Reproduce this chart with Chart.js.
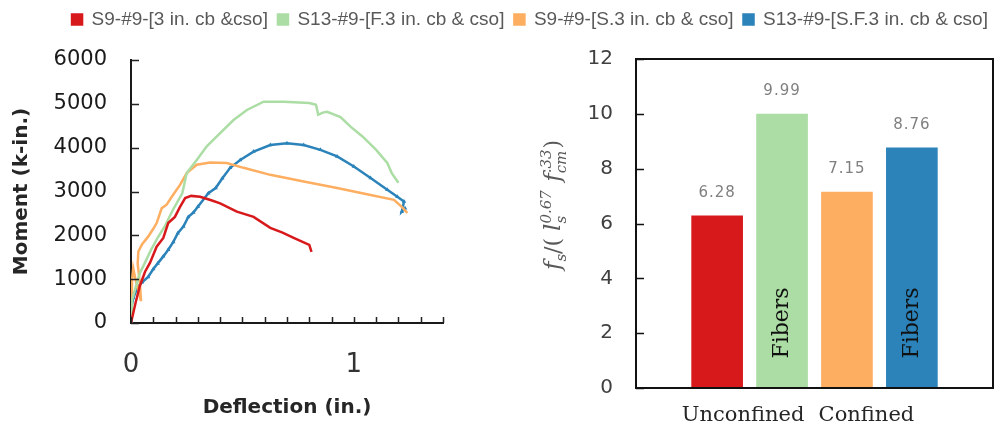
<!DOCTYPE html>
<html>
<head>
    <meta charset="utf-8">
    <title>Moment - deflection and bond ratio</title>
    <script src="https://cdn.jsdelivr.net/npm/chart.js@4.4.3/dist/chart.umd.min.js"></script>
    <style>
        body {
            margin: 0;
            background: #fff;
        }

        .wrap {
            position: relative;
            width: 995px;
            height: 430px;
            overflow: hidden;
        }

        #curves {
            position: absolute;
            left: 0;
            top: 0;
        }

        #bars {
            position: absolute;
            left: 500px;
            top: 0;
        }
    </style>
</head>

<body>
    <div class="wrap">
        <canvas id="curves" width="1060" height="430"></canvas>
        <canvas id="bars" width="495" height="430"></canvas>
    </div>

    <script>
        // series names + colours
        const names = ['S9-#9-[3 in. cb &cso]', 'S13-#9-[F.3 in. cb & cso]', 'S9-#9-[S.3 in. cb & cso]', 'S13-#9-[S.F.3 in. cb & cso]']
        const colors = ['#d7191c', '#abdda4', '#fdae61', '#2b83ba']

        // moment - deflection curves (deflection in., moment k-in.)
        const redX = [0, 0.02, 0.04, 0.063, 0.085, 0.115, 0.145, 0.167, 0.197, 0.22, 0.243, 0.27, 0.31, 0.36, 0.40, 0.475, 0.55, 0.625, 0.68, 0.73, 0.80, 0.81]
        const redY = [0, 450, 850, 1170, 1370, 1740, 1940, 2280, 2420, 2650, 2850, 2900, 2880, 2800, 2730, 2540, 2420, 2170, 2060, 1940, 1780, 1620]

        const greenX = [0, 0.005, 0.02, 0.04, 0.065, 0.09, 0.12, 0.15, 0.19, 0.23, 0.25, 0.295, 0.34, 0.40, 0.46, 0.52, 0.595, 0.685, 0.80, 0.83, 0.84, 0.86, 0.88, 0.94, 0.985, 1.04, 1.10, 1.15, 1.17, 1.20]
        const greenY = [0, 520, 800, 1140, 1400, 1670, 1950, 2190, 2600, 2960, 3420, 3720, 4030, 4330, 4630, 4860, 5050, 5050, 5020, 4980, 4750, 4800, 4820, 4700, 4480, 4250, 3950, 3650, 3420, 3200]

        const orangeX = [0, 0.005, 0.01, 0.02, 0.035, 0.045, 0.04, 0.03, 0.033, 0.05, 0.077, 0.1, 0.115, 0.138, 0.16, 0.183, 0.22, 0.25, 0.295, 0.355, 0.43, 0.505, 0.625, 0.775, 0.925, 1.075, 1.18, 1.215, 1.24]
        const orangeY = [0, 1000, 1250, 1000, 700, 500, 900, 1350, 1630, 1800, 1970, 2150, 2280, 2620, 2700, 2880, 3150, 3420, 3610, 3660, 3650, 3540, 3380, 3230, 3080, 2920, 2810, 2650, 2510]

        const blueX = [0, 0.003, 0, 0.01, 0.03, 0.05, 0.077, 0.1, 0.12, 0.145, 0.167, 0.19, 0.21, 0.235, 0.257, 0.28, 0.30, 0.347, 0.38, 0.41, 0.445, 0.49, 0.55, 0.625, 0.70, 0.775, 0.85, 0.925, 1.0, 1.075, 1.15, 1.195, 1.225, 1.215, 1.23]
        const blueY = [0, 200, 350, 570, 820, 930, 1050, 1230, 1360, 1520, 1670, 1850, 2050, 2200, 2420, 2520, 2650, 2960, 3080, 3300, 3540, 3720, 3910, 4060, 4100, 4060, 3950, 3800, 3570, 3310, 3040, 2880, 2770, 2540, 2620]

        // bar chart
        const barValues = [6.28, 9.99, 7.15, 8.76]
        const barNotes = ['', 'Fibers', '', 'Fibers']
        const barSlots = [1, 2, 3, 4]
        const groupLabels = ['Unconfined', 'Confined']
        const groupSlots = [1.4, 3.3]

        const curveX = [redX, greenX, orangeX, blueX]
        const curveY = [redY, greenY, orangeY, blueY]

        const insideTicks = {
            id: 'insideTicks',
            afterDraw(chart, args, opts) {
                const ctx = chart.ctx
                const area = chart.chartArea
                ctx.save()
                ctx.strokeStyle = opts.color
                ctx.lineWidth = opts.width
                ctx.beginPath()
                if (opts.x) {
                    const sx = chart.scales.x
                    sx.ticks.forEach(t => {
                        const px = Math.round(sx.getPixelForValue(t.value)) + 0.5
                        ctx.moveTo(px, area.bottom)
                        ctx.lineTo(px, area.bottom - opts.x)
                    })
                }
                if (opts.y) {
                    const sy = chart.scales.y
                    sy.ticks.forEach(t => {
                        const py = Math.round(sy.getPixelForValue(t.value)) + 0.5
                        ctx.moveTo(area.left, py)
                        ctx.lineTo(area.left + opts.y, py)
                    })
                }
                ctx.stroke()
                if (opts.box) {
                    ctx.lineWidth = opts.box
                    ctx.strokeRect(area.left, area.top, area.right - area.left, area.bottom - area.top)
                }
                ctx.restore()
            }
        }

        const barText = {
            id: 'barText',
            afterDatasetsDraw(chart) {
                const ctx = chart.ctx
                const meta = chart.getDatasetMeta(0)
                ctx.save()
                meta.data.forEach((bar, i) => {
                    ctx.textAlign = 'center'
                    ctx.textBaseline = 'middle'
                    ctx.fillStyle = '#7f7f7f'
                    ctx.font = '15px "DejaVu Sans"'
                    ctx.letterSpacing = '1px'
                    ctx.fillText(barValues[i].toFixed(2), bar.x, bar.y - 23)
                    if (barNotes[i]) {
                        ctx.save()
                        ctx.letterSpacing = '0px'
                        ctx.translate(bar.x, bar.base - 65)
                        ctx.rotate(-Math.PI / 2)
                        ctx.fillStyle = '#111'
                        ctx.font = '22px "DejaVu Serif"'
                        ctx.fillText(barNotes[i], 0, 0)
                        ctx.restore()
                    }
                })
                ctx.restore()
            }
        }

        // y title  f_s / ( l_s^0.67 f_cm^.33 )
        const mathTitle = {
            id: 'mathTitle',
            afterDraw(chart, args, opts) {
                const ctx = chart.ctx
                const serif = '"DejaVu Serif"'
                const big = 'italic 23px ' + serif
                const small = 'italic 15px ' + serif
                const parts = [
                    { t: 'f', font: big, dy: 0 },
                    { t: 's', font: small, dy: 6 },
                    { t: '/( ', font: '22px ' + serif, dy: 0 },
                    { t: 'l', font: big, dy: 0 },
                    { up: '0.67', down: 's' },
                    { t: ' f', font: big, dy: 0 },
                    { up: '.33', down: 'cm' },
                    { t: ')', font: '22px ' + serif, dy: 0 }
                ]
                ctx.save()
                let total = 0
                parts.forEach(p => {
                    if (p.up) {
                        ctx.font = small
                        p.w = Math.max(ctx.measureText(p.up).width, ctx.measureText(p.down).width) + 1
                    } else {
                        ctx.font = p.font
                        p.w = ctx.measureText(p.t).width
                    }
                    total += p.w
                })
                ctx.translate(opts.x, opts.y)
                ctx.rotate(-Math.PI / 2)
                ctx.fillStyle = '#595959'
                ctx.textBaseline = 'alphabetic'
                let x = -total / 2
                parts.forEach(p => {
                    if (p.up) {
                        ctx.font = small
                        ctx.fillText(p.up, x, -2)
                        ctx.fillText(p.down, x, 13)
                    } else {
                        ctx.font = p.font
                        ctx.fillText(p.t, x, 7 + p.dy)
                    }
                    x += p.w
                })
                ctx.restore()
            }
        }

        const curves = new Chart(document.getElementById('curves'), {
            type: 'scatter',
            data: {
                datasets: names.map((n, i) => ({
                    label: n,
                    data: curveX[i].map((x, j) => ({ x: x, y: curveY[i][j] })),
                    showLine: true,
                    borderColor: colors[i],
                    backgroundColor: colors[i],
                    borderWidth: 2.5,
                    pointRadius: i === 3 ? 2.5 : 0,
                    pointStyle: 'triangle',
                    pointBorderWidth: 0,
                    tension: 0
                }))
            },
            options: {
                responsive: false,
                animation: false,
                layout: { padding: 0 },
                plugins: {
                    legend: {
                        position: 'top',
                        labels: {
                            font: { family: 'Liberation Sans', size: 19 },
                            color: '#595959',
                            boxWidth: 10,
                            boxHeight: 10,
                            padding: 10
                        }
                    },
                    tooltip: { enabled: false },
                    insideTicks: { x: 6, y: 8, color: '#222', width: 1.5 }
                },
                scales: {
                    x: {
                        type: 'linear',
                        position: 'bottom',
                        min: 0,
                        max: 1.4,
                        grid: { display: false, drawTicks: false },
                        border: { display: true, color: '#1a1a1a', width: 2 },
                        ticks: {
                            stepSize: 0.1,
                            maxTicksLimit: 20,
                            autoSkip: false,
                            maxRotation: 0,
                            padding: 27,
                            color: '#333',
                            font: { family: 'DejaVu Sans', size: 26 },
                            callback: v => Math.abs(v - Math.round(v)) < 1e-6 ? String(Math.round(v)) : ''
                        },
                        title: {
                            display: true,
                            text: 'Deflection (in.)',
                            color: '#262626',
                            font: { family: 'DejaVu Sans', size: 20, weight: 'bold' },
                            padding: { top: 0, bottom: 10 }
                        },
                        afterFit: s => { s.height = 107 }
                    },
                    xT: {
                        type: 'linear',
                        position: 'top',
                        grid: { display: false },
                        border: { display: false },
                        ticks: { display: false },
                        afterFit: s => { s.height = 21 }
                    },
                    y: {
                        min: 0,
                        max: 6000,
                        grid: { display: false, drawTicks: false },
                        border: { display: true, color: '#1a1a1a', width: 2 },
                        ticks: {
                            stepSize: 1000,
                            padding: 24,
                            color: '#1a1a1a',
                            font: { family: 'DejaVu Sans', size: 21 },
                            callback: v => String(v)
                        },
                        title: {
                            display: true,
                            text: 'Moment (k-in.)',
                            color: '#262626',
                            font: { family: 'DejaVu Sans', size: 20, weight: 'bold' },
                            padding: { top: 10, bottom: 0 }
                        },
                        afterFit: s => { s.width = 131 }
                    },
                    yR: {
                        type: 'linear',
                        position: 'right',
                        grid: { display: false },
                        border: { display: false },
                        ticks: { display: false },
                        afterFit: s => { s.width = 1060 - 443 }
                    }
                }
            },
            plugins: [insideTicks]
        })

        const bars = new Chart(document.getElementById('bars'), {
            type: 'bar',
            data: {
                datasets: [{
                    data: barValues.map((v, i) => ({ x: barSlots[i], y: v })),
                    backgroundColor: colors,
                    borderWidth: 0,
                    barThickness: 51
                }]
            },
            options: {
                responsive: false,
                animation: false,
                layout: { padding: { top: 59, right: 2, left: 0, bottom: 0 } },
                plugins: {
                    legend: { display: false },
                    tooltip: { enabled: false },
                    insideTicks: { x: 0, y: 8, color: '#111', width: 1.5, box: 2 },
                    mathTitle: { x: 53, y: 205 }
                },
                scales: {
                    x: {
                        type: 'linear',
                        offset: false,
                        min: -0.25,
                        max: 5.25,
                        grid: { display: false, offset: false, drawTicks: false },
                        border: { display: false },
                        afterBuildTicks: axis => {
                            axis.ticks = groupSlots.map(v => ({ value: v }))
                        },
                        ticks: {
                            autoSkip: false,
                            maxRotation: 0,
                            padding: 15,
                            color: '#262626',
                            font: { family: 'DejaVu Serif', size: 21 },
                            callback: v => groupLabels[groupSlots.indexOf(v)]
                        },
                        afterFit: s => { s.height = 42 }
                    },
                    y: {
                        min: 0,
                        max: 12,
                        grid: { display: false, drawTicks: false },
                        border: { display: false },
                        ticks: {
                            stepSize: 2,
                            padding: 23,
                            color: '#404040',
                            font: { family: 'DejaVu Sans', size: 20 }
                        },
                        afterFit: s => { s.width = 136 }
                    }
                }
            },
            plugins: [insideTicks, barText, mathTitle]
        })
    </script>
</body>
</html>
